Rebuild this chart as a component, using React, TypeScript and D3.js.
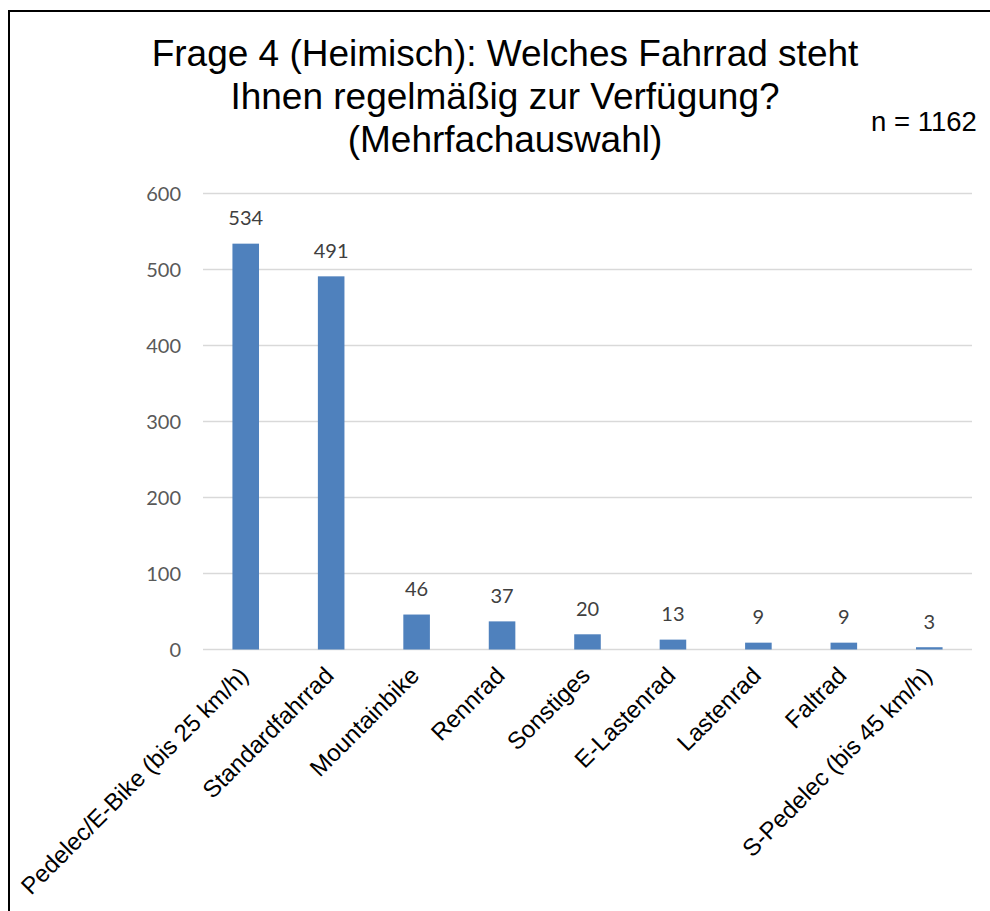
import React from "react";
import * as d3 from "d3";

const categories = [
  "Pedelec/E-Bike (bis 25 km/h)",
  "Standardfahrrad",
  "Mountainbike",
  "Rennrad",
  "Sonstiges",
  "E-Lastenrad",
  "Lastenrad",
  "Faltrad",
  "S-Pedelec (bis 45 km/h)",
];
const values = [534, 491, 46, 37, 20, 13, 9, 9, 3];
const yTicks = [0, 100, 200, 300, 400, 500, 600];
const titleLines = [
  "Frage 4 (Heimisch): Welches Fahrrad steht",
  "Ihnen regelmäßig zur Verfügung?",
  "(Mehrfachauswahl)",
];
const note = "n = 1162";

const W = 990;
const H = 911;
const plotLeft = 203;
const plotRight = 972;
const plotTop = 193.5;
const plotBottom = 649.5;

export default function App() {
  const x = d3
    .scaleBand<string>()
    .domain(categories)
    .range([plotLeft, plotRight])
    .paddingInner(0.689)
    .paddingOuter(0.3445);
  const y = d3.scaleLinear().domain([0, 600]).range([plotBottom, plotTop]);

  const arial = "'Liberation Sans', Arial, sans-serif";
  const calib = "Lato, 'Open Sans', sans-serif";

  return (
    <svg
      width={W}
      height={H}
      style={{ position: "absolute", left: 0, top: 0, background: "#fff" }}
    >
      <rect x={0} y={0} width={W} height={H} fill="#fff" />
      <rect
        x={9}
        y={11}
        width={W + 20}
        height={H + 20}
        fill="none"
        stroke="#000"
        strokeWidth={2}
      />
      {titleLines.map((t, i) => (
        <text
          key={i}
          x={505}
          y={66 + i * 43}
          textAnchor="middle"
          fontFamily={arial}
          fontSize={37}
          fill="#000"
        >
          {t}
        </text>
      ))}
      <text x={871} y={131} fontFamily={arial} fontSize={27.5} fill="#000">
        {note}
      </text>
      {yTicks.map((t) => (
        <g key={t}>
          <line
            x1={plotLeft}
            x2={plotRight}
            y1={y(t)}
            y2={y(t)}
            stroke="#D9D9D9"
            strokeWidth={1.6}
          />
          <text
            x={181}
            y={y(t) + 7}
            textAnchor="end"
            fontFamily={calib}
            fontSize={20}
            fill="#595959"
          >
            {t}
          </text>
        </g>
      ))}
      {categories.map((c, i) => {
        const bx = x(c)!;
        const bw = x.bandwidth();
        const v = values[i];
        return (
          <g key={c}>
            <rect
              x={bx}
              y={y(v)}
              width={bw}
              height={plotBottom - y(v)}
              fill="#4F81BD"
            />
            <text
              x={bx + bw / 2}
              y={y(v) - 18.5}
              textAnchor="middle"
              fontFamily={calib}
              fontSize={20}
              fill="#404040"
            >
              {v}
            </text>
          </g>
        );
      })}
      {categories.map((c) => {
        const cx = x(c)! + x.bandwidth() / 2;
        return (
          <text
            key={"l" + c}
            transform={`translate(${cx - 8},${665}) rotate(-45)`}
            textAnchor="end"
            dy="0.71em"
            fontFamily={arial}
            fontSize={24}
            fill="#000"
          >
            {c}
          </text>
        );
      })}
    </svg>
  );
}
